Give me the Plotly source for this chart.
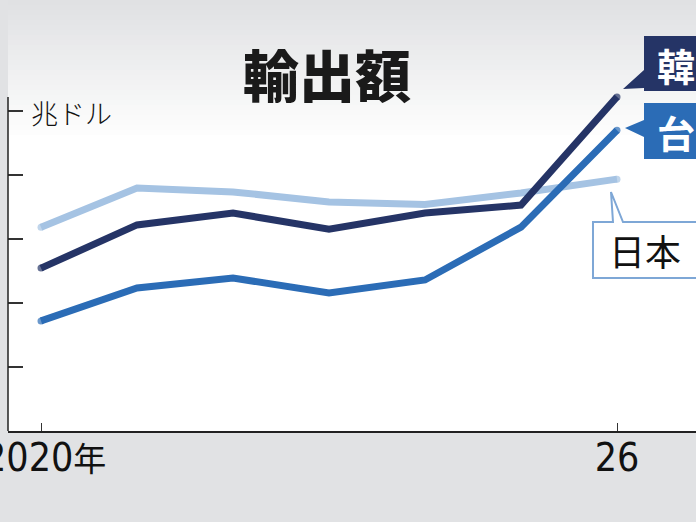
import plotly.graph_objects as go

# data (trillion USD)
years = [2020, 2021, 2022, 2023, 2024, 2025, 2026]
japan = [0.637, 0.759, 0.747, 0.716, 0.708, 0.744, 0.787]
korea = [0.509, 0.644, 0.681, 0.631, 0.681, 0.706, 1.044]
taiwan = [0.344, 0.447, 0.478, 0.431, 0.472, 0.637, 0.940]

x_tickvals = [2020, 2026]
x_ticktext = ["", "26"]
first_year_label = "2020<span style='font-size:33px'>年</span>"
y_tickvals = [0.2, 0.4, 0.6, 0.8, 1.0]

W, H = 696, 522
L, B = 8, 91
PW, PH = W - L, H - B

C_JAPAN = "#a5c3e3"
C_KOREA = "#253466"
C_TAIWAN = "#2b6cb6"
JP_FONT = "Noto Sans CJK JP"
NUM_FONT = "Liberation Sans Narrow, DejaVu Sans Condensed, Noto Sans CJK JP"


def px(x):
    return (x - L) / PW


def py(y):
    return (PH - y) / PH


def path(points):
    return "M " + " L ".join(f"{px(a):.5f},{py(b):.5f}" for a, b in points) + " Z"


fig = go.Figure()

for name, vals, color in [("日本", japan, C_JAPAN), ("韓国", korea, C_KOREA), ("台湾", taiwan, C_TAIWAN)]:
    n = len(vals)
    fig.add_trace(go.Scatter(
        x=years, y=vals, mode="lines+markers", name=name,
        line=dict(color=color, width=7),
        marker=dict(color=color, size=[7] + [0] * (n - 2) + [7], line=dict(width=0)),
        hoverinfo="skip",
    ))

shapes = []
# soft grey gradient at the top of the panel
steps = 28
top_h = 140
for i in range(steps):
    t = i / (steps - 1)
    r = int(224 + (255 - 224) * t)
    g = int(225 + (255 - 225) * t)
    b = int(227 + (255 - 227) * t)
    y0 = top_h * i / steps
    y1 = top_h * (i + 1) / steps + 0.5
    shapes.append(dict(type="rect", xref="paper", yref="paper", layer="below",
                       x0=0, x1=1, y0=py(y1), y1=py(y0),
                       fillcolor=f"rgb({r},{g},{b})", line=dict(width=0)))

# y axis line (starts just above the top tick)
shapes.append(dict(type="line", xref="paper", yref="paper", x0=0, x1=0,
                   y0=0, y1=py(97), line=dict(color="#222", width=1.5)))

# callout boxes
shapes.append(dict(type="path", xref="paper", yref="paper",
                   path=path([(644, 36), (700, 36), (700, 91), (644, 91), (644, 88), (623, 89), (644, 70)]),
                   fillcolor=C_KOREA, line=dict(width=0)))
shapes.append(dict(type="path", xref="paper", yref="paper",
                   path=path([(644, 103), (700, 103), (700, 159), (644, 159), (644, 137), (625, 128), (644, 120)]),
                   fillcolor=C_TAIWAN, line=dict(width=0)))
shapes.append(dict(type="path", xref="paper", yref="paper",
                   path=path([(593, 222), (613, 222), (611, 192), (623, 222), (700, 222), (700, 278), (593, 278)]),
                   fillcolor="white", line=dict(color="#7ea7d6", width=2)))

annotations = [
    dict(text="輸出額", x=px(327), y=py(73), xref="paper", yref="paper",
         xanchor="center", yanchor="middle", showarrow=False,
         font=dict(family=JP_FONT, size=56, color="#1a1a1a", weight=900)),
    dict(text="兆ドル", x=px(29), y=py(112), xref="paper", yref="paper",
         xanchor="left", yanchor="middle", showarrow=False,
         font=dict(family=JP_FONT, size=27, color="#111", weight=300)),
    dict(text="韓", x=px(676), y=py(64), xref="paper", yref="paper",
         xanchor="center", yanchor="middle", showarrow=False,
         font=dict(family=JP_FONT, size=38, color="white", weight=700)),
    dict(text="台", x=px(676), y=py(131), xref="paper", yref="paper",
         xanchor="center", yanchor="middle", showarrow=False,
         font=dict(family=JP_FONT, size=38, color="white", weight=700)),
    dict(text="日本", x=px(645), y=py(250), xref="paper", yref="paper",
         xanchor="center", yanchor="middle", showarrow=False,
         font=dict(family=JP_FONT, size=36, color="#111")),
    # first year label sits a little right of its tick, cut at the left edge
    dict(text=first_year_label, x=2020, y=py(457), xref="x", yref="paper",
         xanchor="center", yanchor="middle", xshift=4, showarrow=False,
         font=dict(family=NUM_FONT, size=39, color="#111")),
]

fig.update_layout(
    width=W, height=H,
    margin=dict(l=L, r=0, t=0, b=B, pad=0, autoexpand=False),
    paper_bgcolor="#e1e2e4",
    plot_bgcolor="white",
    showlegend=False,
    shapes=shapes,
    annotations=annotations,
    xaxis=dict(
        range=[2020 - 33 / 96, 2026 + 79 / 96],
        tickvals=x_tickvals, ticktext=x_ticktext,
        ticks="inside", ticklen=8, tickwidth=1, tickcolor="#333",
        ticklabeloverflow="allow", ticklabelstandoff=-9, automargin=False,
        showline=True, linecolor="#222", linewidth=1.5,
        showgrid=False, zeroline=False,
        tickfont=dict(family=NUM_FONT, size=39, color="#111"),
    ),
    yaxis=dict(
        range=[0, PH / 320],
        tickvals=y_tickvals, automargin=False,
        ticks="inside", ticklen=15, tickwidth=1.5, tickcolor="#333",
        showticklabels=False, showline=False,
        showgrid=False, zeroline=False,
    ),
)

# drop the default page margin so the figure sits flush in the window
fig.write_html(
    "out.html",
    config={"displayModeBar": False},
    post_script="document.body.style.margin='0';document.body.style.overflow='hidden';",
)
